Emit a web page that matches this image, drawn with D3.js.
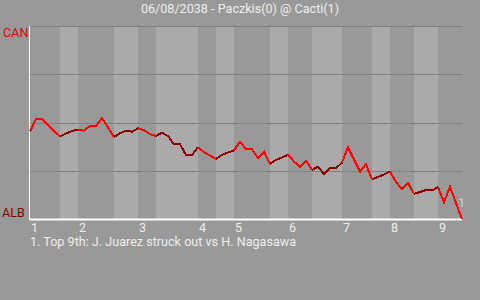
<!DOCTYPE html>
<html>
<head>
<meta charset="utf-8">
<script src="https://cdn.jsdelivr.net/npm/d3@7"></script>
<style>
  body { margin: 0; background: #999; }
  text { font-family: Roboto, "Open Sans", sans-serif; font-size: 12.6px; }
</style>
</head>
<body>
<script>
// win probability for the away team (CAN / Paczkis), one value per plate appearance, in %
winProb = [45.4, 51.7, 51.7, 48.6, 45.7, 42.8, 44.3, 45.6, 46.3, 45.8,
  48.2, 48.2, 52.3, 47.4, 42.5, 44.4, 45.8, 45.2, 47.0, 46.1,
  44.0, 43.0, 44.7, 43.0, 38.7, 38.7, 33.2, 33.2, 37.2, 34.6,
  32.9, 31.1, 33.2, 34.5, 35.5, 40.1, 36.1, 36.1, 31.5, 34.9,
  28.5, 30.6, 31.9, 33.2, 29.7, 27.1, 30.2, 25.4, 27.1, 23.3,
  26.3, 26.3, 29.2, 37.2, 30.8, 24.5, 28.5, 20.6, 21.8, 23.1,
  24.5, 19.2, 15.4, 18.8, 13.0, 14.0, 15.0, 14.8, 16.4, 8.7,
  16.7, 8.3, 0]

// plate appearance index where each half inning starts (top 1, bot 1, top 2, ...)
halfStarts = [0, 5, 8, 14, 18, 21, 28, 31, 34, 40, 43, 47, 52, 57, 60, 64, 68]
innings = ["1", "2", "3", "4", "5", "6", "7", "8", "9"]
gridTicks = [25, 50, 75, 100]

title = "06/08/2038 - Paczkis(0) @ Cacti(1)"
teams = {top: "CAN", bottom: "ALB"}
keyPlays = [{pa: 71, label: "1", text: "1. Top 9th: J. Juarez struck out vs H. Nagasawa"}]

width = 480
height = 300
margin = ({top: 26, right: 18, bottom: 81, left: 30})

nPA = winProb.length - 1

x = d3.scaleLinear()
    .domain([0, nPA])
    .range([margin.left, width - margin.right])

y = d3.scaleLinear()
    .domain([0, 100])
    .range([height - margin.bottom, margin.top])

halves = halfStarts.map((s, i) => ({
    start: s,
    end: i < halfStarts.length - 1 ? halfStarts[i + 1] : nPA,
    top: i % 2 == 0
}))

const svg = d3.select("body").append("svg")
    .attr("width", width)
    .attr("height", height)
    .attr("viewBox", [0, 0, width, height])

svg.append("rect")
    .attr("width", width)
    .attr("height", height)
    .attr("fill", "#999")

// half inning bands, bottoms are lighter
svg.append("g")
    .selectAll("rect")
    .data(halves)
    .join("rect")
    .attr("x", d => x(d.start))
    .attr("y", y(100))
    .attr("width", d => x(d.end) - x(d.start))
    .attr("height", y(0) - y(100))
    .attr("fill", d => d.top ? "#999" : "#aaa")

svg.append("g")
    .attr("stroke", "#808080")
    .attr("shape-rendering", "crispEdges")
    .selectAll("line")
    .data(gridTicks)
    .join("line")
    .attr("x1", x(0))
    .attr("x2", x(nPA))
    .attr("y1", d => Math.round(y(d)) + 0.5)
    .attr("y2", d => Math.round(y(d)) + 0.5)

// axes
svg.append("line")
    .attr("x1", x(0) - 0.5).attr("x2", x(0) - 0.5)
    .attr("y1", y(100)).attr("y2", y(0) + 1)
    .attr("stroke", "#fff")
svg.append("line")
    .attr("x1", x(0)).attr("x2", x(nPA))
    .attr("y1", y(0) + 0.5).attr("y2", y(0) + 0.5)
    .attr("stroke", "#fff")
    .attr("stroke-width", 2)

const line = d3.line()
    .x(i => x(i))
    .y(i => y(winProb[i]))

svg.append("g")
    .attr("fill", "none")
    .attr("stroke-width", 2)
    .attr("shape-rendering", "crispEdges")
    .selectAll("path")
    .data(halves)
    .join("path")
    .attr("stroke", d => d.top ? "#ff0000" : "#8b0000")
    .attr("d", d => line(d3.range(d.start, d.end + 1)))

// inning labels at the start of each top half
svg.append("g")
    .attr("fill", "#eee")
    .selectAll("text")
    .data(innings)
    .join("text")
    .attr("x", (d, i) => x(halfStarts[i * 2]) + 1)
    .attr("y", 231.5)
    .text(d => d)

svg.append("text")
    .attr("x", width / 2)
    .attr("y", 13)
    .attr("text-anchor", "middle")
    .attr("fill", "#eee")
    .text(title)

svg.append("text")
    .attr("x", 3)
    .attr("y", 37)
    .attr("fill", "#e00000")
    .text(teams.top)

svg.append("text")
    .attr("x", 2)
    .attr("y", 217)
    .attr("fill", "#8b0000")
    .text(teams.bottom)

svg.append("g")
    .selectAll("text")
    .data(keyPlays)
    .join("text")
    .attr("x", d => x(d.pa) + 2)
    .attr("y", d => y(winProb[d.pa]) + 4)
    .attr("fill", "#ccc")
    .text(d => d.label)

svg.append("g")
    .selectAll("text")
    .data(keyPlays)
    .join("text")
    .attr("x", x(0))
    .attr("y", (d, i) => 246 + i * 14)
    .attr("fill", "#eee")
    .text(d => d.text)
</script>
</body>
</html>
